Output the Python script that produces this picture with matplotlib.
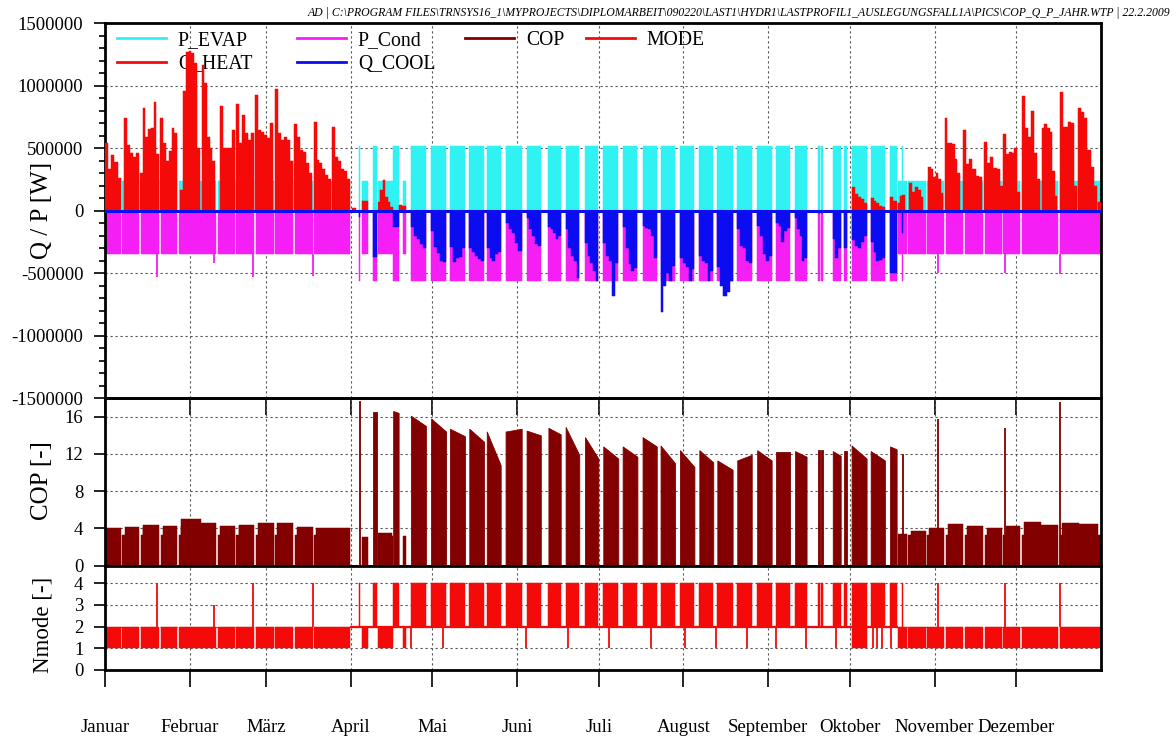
import matplotlib
matplotlib.use("Agg")
import matplotlib.pyplot as plt
from matplotlib.legend import Legend
from matplotlib.lines import Line2D
from matplotlib.ticker import FixedLocator, MultipleLocator, FuncFormatter

# ── Style ─────────────────────────────────────────────────────────────────────
plt.rcParams.update({
    "font.family": ["Liberation Serif", "DejaVu Serif"],
    "font.size": 13.5,
    "axes.linewidth": 2.0,
})

CYAN    = "#30f2f2"
MAGENTA = "#f51ef5"
RED     = "#f50a0a"
BLUE    = "#0c0cf0"
DARKRED = "#820000"
GRID    = "#555555"

# ── Data (time in days of the year, power in kW) ──────────────────────────────
MONTHS = ["Januar", "Februar", "März", "April", "Mai", "Juni", "Juli",
          "August", "September", "Oktober", "November", "Dezember"]
MONTH_DAY = [0, 31, 59, 90, 120, 151, 181, 212, 243, 273, 304, 334]

# heating mode: continuous runs, interrupted by short standstills
HEAT_RUNS = [(0.0, 89.8), (94.1, 96.5), (100.0, 105.5), (109.3, 110.3), (290.5, 365.0)]
STOPS = [5.8, 12.6, 19.9, 26.5, 40.7, 47.6, 54.7, 61.8, 69.0, 76.1,
         293.9, 300.8, 307.6, 314.6, 321.8, 328.7, 335.4, 349.3]
STOP_W = 0.55
P_EVAP_HEAT = 240
P_COND_HEAT = -345
COP_DIP = 3.3
DIP_LEN = 0.8
# weekly COP level in heating mode (week 0..52)
COP_HEAT = [4.0, 4.2, 4.4, 4.3, 5.0, 4.6, 4.3, 4.4, 4.6, 4.6, 4.2, 4.1, 4.0,
            3.1, 3.5, 3.2,
            0, 0, 0, 0, 0, 0, 0, 0, 0, 0, 0, 0, 0, 0, 0, 0, 0, 0, 0, 0, 0, 0, 0, 0, 0,
            3.4, 3.7, 4.1, 4.5, 4.3, 4.1, 4.3, 4.7, 4.4, 4.6, 4.5, 3.3]

# Q_HEAT: daily peaks per heating period
QH_START = [0.0, 7.1, 12.8, 20.3, 27.5, 35.4, 42.1, 48.0, 55.1, 62.2, 69.3, 76.5, 83.3,
            90.5, 94.1, 100.0, 107.7,
            273.6, 280.6, 287.7, 290.5, 294.7, 301.7, 307.8, 314.5, 322.1, 329.2,
            335.9, 343.3, 350.0, 356.7, 363.9]
QH_END = [5.75, 12.5, 19.8, 26.5, 34.8, 40.3, 47.5, 54.6, 61.7, 68.8, 75.9, 82.8, 89.8,
          92.0, 96.5, 105.5, 110.3,
          279.1, 285.8, 290.1, 293.1, 299.9, 307.2, 313.3, 321.3, 329.1, 335.3,
          342.6, 349.0, 356.1, 363.4, 365.0]
QH_PEAK = [
    [540, 330, 445, 390, 260],
    [745, 525, 460, 430, 460],
    [300, 825, 590, 650, 660, 870, 450],
    [745, 540, 400, 480, 660, 620],
    [165, 960, 1270, 1280, 1260, 1180, 500],
    [1170, 1020, 590, 500, 400],
    [835, 500, 500, 500, 645],
    [850, 540, 765, 620, 565, 620],
    [925, 645, 630, 605, 580, 700],
    [970, 620, 565, 590, 565, 400],
    [695, 590, 485, 470, 380, 300],
    [710, 405, 380, 330, 285, 250],
    [670, 430, 400, 330, 320, 250],
    [20],
    [75, 80],
    [70, 165, 245, 110, 70, 30],
    [45, 40],
    [190, 130, 110, 90, 60],
    [100, 80, 60, 40, 30],
    [110, 80],
    [60, 120, 125],
    [220, 150, 190, 165, 110],
    [350, 330, 270, 300, 250, 140],
    [740, 540, 545, 530, 410, 300],
    [645, 370, 410, 330, 280, 270],
    [550, 380, 430, 340, 330, 200],
    [615, 450, 470, 460, 500, 150],
    [915, 660, 590, 800, 460, 250],
    [660, 690, 660, 630, 320, 120],
    [950, 670, 670, 710, 700, 200],
    [820, 790, 740, 485, 350, 200],
    [70],
]

# cooling mode: operating blocks
P_EVAP_COOL = 515
P_COND_COOL = -560
COOL_START = [93.0, 98.2, 105.6, 112.1, 119.5, 126.4, 133.5, 139.9, 146.8, 154.5,
              162.5, 168.8, 175.9, 182.6, 189.7, 197.0, 203.6, 210.7, 217.8, 224.4,
              231.7, 239.0, 245.8, 252.9, 261.4, 262.4, 266.7, 270.8, 273.6, 280.6,
              287.7, 292.1]
COOL_END = [93.3, 99.7, 107.6, 117.6, 125.0, 131.9, 138.9, 145.0, 152.7, 159.7,
            167.0, 173.8, 180.8, 188.1, 195.1, 202.2, 208.9, 216.0, 222.9, 230.0,
            237.0, 244.3, 251.0, 257.1, 262.0, 263.0, 269.6, 272.0, 279.1, 285.8,
            290.1, 292.5]
COP_COOL_A = [17.7, 16.5, 16.6, 16.1, 15.8, 14.7, 14.7, 14.4, 14.4, 14.5,
              14.8, 14.9, 13.8, 12.8, 12.8, 13.8, 12.9, 12.4, 12.4, 11.3,
              11.3, 12.4, 12.2, 12.3, 12.4, 12.4, 12.3, 12.3, 12.9, 12.3,
              12.8, 12.0]
COP_COOL_B = [17.7, 16.5, 16.4, 15.0, 14.4, 13.9, 13.3, 10.8, 14.7, 14.0,
              14.1, 11.9, 11.5, 11.5, 11.7, 12.8, 11.0, 10.6, 11.1, 10.3,
              11.9, 11.3, 12.2, 11.7, 12.4, 12.4, 11.8, 12.3, 11.5, 11.3,
              12.5, 12.0]
QC_DAY = [
    [-50], [-370], [-130, -130],
    [-130, -200, -230, -270, -300],
    [-160, -290, -340, -400, -410],
    [-290, -410, -380, -370, -300],
    [-300, -330, -360, -390, -400],
    [-300, -380, -400, -350, -330],
    [-100, -150, -180, -260, -320],
    [-60, -150, -200, -270, -280],
    [-130, -150, -180, -230, -200],
    [-150, -300, -360, -400, -540],
    [-260, -360, -420, -480, -560],
    [-260, -360, -400, -680, -420],
    [-130, -300, -430, -480, -460],
    [-120, -140, -150, -200, -380],
    [-810, -600, -500, -560, -440],
    [-380, -420, -450, -560, -470],
    [-360, -400, -420, -560, -480],
    [-450, -600, -680, -650, -560],
    [-150, -280, -300, -400, -420],
    [-120, -200, -350, -400, -360],
    [-100, -120, -250, -160, -140],
    [-60, -150, -200, -400, -380],
    [-20], [-20],
    [-230, -380, -300],
    [-300],
    [-235, -280, -300, -250, -200],
    [-250, -330, -400, -395, -380],
    [-500, -500],
    [-180],
]

# Nmode
MODE_IDLE = (89.8, 290.5)
MODE_LOW_EXTRA = [(273.6, 279.1)]
MODE_DROP = [112.0, 123.8, 154.3, 169.8, 184.7, 200.0, 212.6, 223.8, 235.2,
             245.8, 256.9, 267.9, 281.5, 282.8, 284.6, 288.0]

# single events in heating mode
EVENT_DAY  = [18.9, 40.0, 54.3, 76.3, 305.3, 330.0, 350.1]
EVENT_MODE = [4, 3, 4, 4, 4, 4, 4]
EVENT_COND = [-528, -421, -528, -523, -501, -500, -505]
EVENT_COP  = [0, 0, 0, 0, 15.7, 14.8, 17.6]
START_COP = 6.5

LEG_COLS = [(["P_EVAP", "Q_HEAT"], [CYAN, RED]),
            (["P_Cond", "Q_COOL"], [MAGENTA, BLUE]),
            (["COP"], [DARKRED]),
            (["MODE"], [RED])]
LEG_X = [0.0117, 0.1924, 0.3614, 0.4825]

HEADER = ("AD | C:\\PROGRAM FILES\\TRNSYS16_1\\MYPROJECTS\\DIPLOMARBEIT\\090220\\LAST1\\"
          "HYDR1\\LASTPROFIL1_AUSLEGUNGSFALL1A\\PICS\\COP_Q_P_JAHR.WTP | 22.2.2009")


# ── Helpers ───────────────────────────────────────────────────────────────────
def split(t0, t1, cuts=STOPS, w=STOP_W):
    out, a = [], t0
    for c in cuts:
        if a < c < t1:
            out.append((a, c))
            a = c + w
    out.append((a, t1))
    return out


def by_week(a, b):
    out = []
    while b - a > 1e-6:
        e = min(b, 7 * (a // 7 + 1))
        out.append((a, e, int(a // 7)))
        a = e
    return out


def blocks(ax, segs, color, scale=1.0, base=0.0, z=2):
    if not segs:
        return
    ax.bar([s[0] for s in segs], [s[2] * scale - base for s in segs],
           width=[s[1] - s[0] for s in segs], bottom=base, align="edge",
           color=color, edgecolor=color, linewidth=0.35, zorder=z)


# ── Build segments ────────────────────────────────────────────────────────────
evap, cond, cop_h, mode_lo = [], [], [], []
for t0, t1 in HEAT_RUNS:
    for j, (a, b) in enumerate(split(t0, t1)):
        evap.append((a, b, P_EVAP_HEAT))
        cond.append((a, b, P_COND_HEAT))
        mode_lo.append((a, b, 2))
        if j > 0:
            cop_h.append((a, a + DIP_LEN, COP_DIP))
            a = a + DIP_LEN
        for c, d, k in by_week(a, b):
            cop_h.append((c, d, COP_HEAT[k]))

qh = []
for s, e, peaks in zip(QH_START, QH_END, QH_PEAK):
    w = (e - s) / len(peaks)
    qh += [(s + i * w, s + (i + 1) * w, p) for i, p in enumerate(peaks)]

qc, mode_hi = [], []
for s, e, q in zip(COOL_START, COOL_END, QC_DAY):
    evap.append((s, e, P_EVAP_COOL))
    cond.append((s, e, P_COND_COOL))
    mode_hi.append((s, e, 4))
    w = (e - s) / len(q)
    qc += [(s + i * w, s + (i + 1) * w, v) for i, v in enumerate(q)]
for s, e in MODE_LOW_EXTRA:
    mode_lo.append((s, e, 2))

# ── Figure ────────────────────────────────────────────────────────────────────
fig = plt.figure(figsize=(11.76, 7.38), dpi=100)
fig.patch.set_facecolor("white")
L, W = 105 / 1176, 996 / 1176
ax1 = fig.add_axes([L, 1 - 398 / 738, W, 374.7 / 738])
ax2 = fig.add_axes([L, 1 - 565.7 / 738, W, 167.7 / 738])
ax3 = fig.add_axes([L, 1 - 670 / 738, W, 104.3 / 738])
ax2.set_facecolor("none")

# top panel
blocks(ax1, evap, CYAN, scale=1e3)
blocks(ax1, cond, MAGENTA, scale=1e3)
ax1.vlines(EVENT_DAY, P_COND_HEAT * 1e3, [v * 1e3 for v in EVENT_COND],
           color=MAGENTA, lw=1.3, zorder=2)
blocks(ax1, qh, RED, scale=1e3, z=3)
blocks(ax1, qc, BLUE, scale=1e3, z=3)
ax1.axhline(0, color=BLUE, lw=2.2, zorder=4)

# COP panel
blocks(ax2, cop_h, DARKRED)
for s, e, ca, cb in zip(COOL_START, COOL_END, COP_COOL_A, COP_COOL_B):
    ax2.fill_between([s, e], [ca, cb], 0, color=DARKRED, lw=0.6, zorder=2)
ax2.vlines([d for d, c in zip(EVENT_DAY, EVENT_COP) if c > 0],
           0, [c for c in EVENT_COP if c > 0], color=DARKRED, lw=1.3, zorder=2)
ax2.vlines(0.05, 0, START_COP, color=DARKRED, lw=1.3, zorder=2)

# Nmode panel
ax3.hlines(2, MODE_IDLE[0], MODE_IDLE[1], color=RED, lw=1.6, zorder=2)
blocks(ax3, mode_lo, RED, base=1.0)
blocks(ax3, mode_hi, RED, base=2.0)
ax3.vlines(MODE_DROP, 1, 2, color=RED, lw=1.3, zorder=2)
ax3.vlines(EVENT_DAY, 2, EVENT_MODE, color=RED, lw=1.3, zorder=2)
ax3.vlines(0.05, 0, 1, color=RED, lw=1.3, zorder=2)

# ── Axes cosmetics ────────────────────────────────────────────────────────────
for ax in (ax1, ax2, ax3):
    ax.set_xlim(0, 365)
    ax.xaxis.set_major_locator(FixedLocator(MONTH_DAY))
    ax.set_axisbelow(True)
    ax.grid(True, which="major", color=GRID, lw=0.8, ls=(0, (2, 2.5)))
    for sp in ax.spines.values():
        sp.set_linewidth(2)
    ax.tick_params(axis="y", direction="out", length=8, width=1.2, labelsize=13.5, pad=7.5)

ax1.set_ylim(-1.5e6, 1.5e6)
ax1.yaxis.set_major_locator(MultipleLocator(5e5))
ax1.yaxis.set_minor_locator(MultipleLocator(1e5))
ax1.yaxis.set_major_formatter(FuncFormatter(lambda v, _: f"{v:.0f}"))
ax1.tick_params(axis="y", which="minor", direction="out", length=4.2, width=1.2)
ax1.tick_params(axis="x", direction="out", length=12, width=1.2, labelbottom=False)

ax2.set_ylim(0, 18)
ax2.set_yticks([0, 4, 8, 12, 16])
ax2.tick_params(axis="x", length=0, labelbottom=False)

ax3.set_ylim(0, 4.8)
ax3.set_yticks([0, 1, 2, 3, 4])
ax3.set_xticklabels(MONTHS)
ax3.tick_params(axis="x", direction="out", length=12, width=1.2, labelsize=13.5, pad=23)

ax1.set_ylabel("Q / P [W]", fontsize=18)
ax2.set_ylabel("COP [-]", fontsize=18)
ax3.set_ylabel("Nmode [-]", fontsize=16.5)
ax1.yaxis.set_label_coords(-0.052, 0.5)
ax2.yaxis.set_label_coords(-0.052, 0.51)
ax3.yaxis.set_label_coords(-0.052, 0.43)

# legend: four columns at fixed places, drawn under the data
for (labels, colors), x in zip(LEG_COLS, LEG_X):
    leg = Legend(ax1, [Line2D([], [], color=c, lw=2) for c in colors], labels,
                 loc="upper left", bbox_to_anchor=(x, 0.98), frameon=False,
                 fontsize=14.2, handlelength=2.5, handletextpad=0.6,
                 labelspacing=0.25, borderpad=0, borderaxespad=0)
    leg.set_zorder(1)
    ax1.add_artist(leg)

fig.text(0.995, 0.983, HEADER, ha="right", va="center", fontsize=8.5, style="italic")

fig.savefig("out.png", dpi=100, facecolor="white")
